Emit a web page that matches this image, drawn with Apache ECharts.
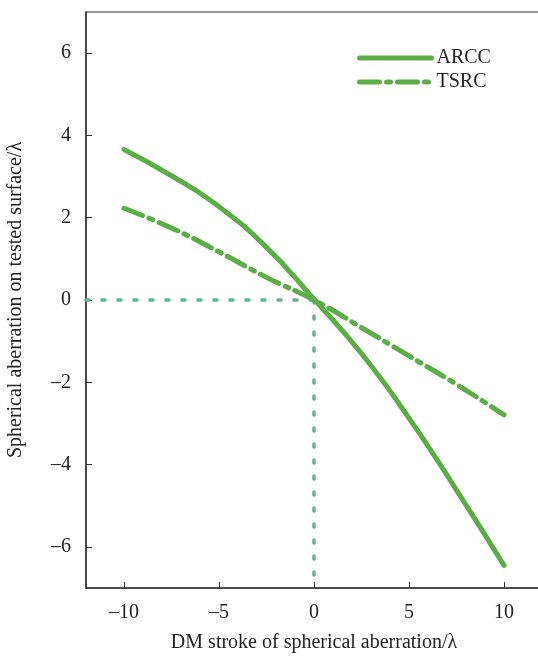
<!DOCTYPE html>
<html>
<head>
<meta charset="utf-8">
<script src="https://cdn.jsdelivr.net/npm/echarts@6/dist/echarts.min.js"></script>
<style>
  html, body { margin: 0; padding: 0; background: #fff; }
  #main { width: 538px; height: 656px; }
</style>
</head>
<body>
<div id="main"></div>
<script>
// DM stroke values (x) and the two curves
var stroke = [-10, -7.5, -5, -2.5, 0, 2.5, 5, 7.5, 10];
var arcc = [3.66, 3.02, 2.27, 1.28, 0.02, -1.3, -2.87, -4.62, -6.45];
var tsrc = [2.23, 1.75, 1.17, 0.55, 0.0, -0.67, -1.36, -2.05, -2.79];
// dotted guide lines through the origin
var guideH = [[-12, 0], [0, 0]];
var guideV = [[0, 0], [0, -7]];
var xTicks = [-10, -5, 0, 5, 10];
var yTicks = [-6, -4, -2, 0, 2, 4, 6];

var green = "#5bae46";
var guideColor = "#6aae8c";
var font = "Liberation Serif";

function pairs(xs, ys) {
  return xs.map(function (x, i) { return [x, ys[i]]; });
}
function dash(v) {
  return String(v).replace("-", "\u2013");
}

var chart = echarts.init(document.getElementById("main"));
chart.setOption({
  animation: false,
  backgroundColor: "#fff",
  grid: {
    left: 86, top: 12, width: 456, height: 576,
    outerBoundsMode: "none",
    show: true, borderColor: "#333", borderWidth: 1.2
  },
  legend: {
    data: ["ARCC", "TSRC"],
    orient: "vertical",
    left: 352,
    top: 43,
    itemWidth: 72,
    itemHeight: 14,
    itemGap: 4,
    itemStyle: { opacity: 0 },
    lineStyle: { width: 5 },
    textStyle: { fontFamily: font, fontSize: 20, color: "#222" }
  },
  xAxis: {
    type: "value",
    min: -12, max: 12,
    interval: 5,
    name: "DM stroke of spherical aberration/\u03bb",
    nameLocation: "middle",
    nameGap: 45,
    nameTextStyle: { fontFamily: font, fontSize: 20, color: "#222" },
    axisLine: { onZero: false, lineStyle: { color: "#333", width: 1.5 } },
    axisTick: { inside: true, length: 6, lineStyle: { color: "#333" },
      customValues: xTicks },
    axisLabel: { fontFamily: font, fontSize: 20, color: "#222", margin: 15,
      customValues: xTicks, formatter: dash },
    splitLine: { show: false }
  },
  yAxis: {
    type: "value",
    min: -7, max: 7,
    name: "Spherical aberration on tested surface/\u03bb",
    nameLocation: "middle",
    nameGap: 60,
    nameTextStyle: { fontFamily: font, fontSize: 20, color: "#222" },
    axisLine: { onZero: false, lineStyle: { color: "#333", width: 1.5 } },
    axisTick: { inside: true, length: 6, lineStyle: { color: "#333" },
      customValues: yTicks },
    axisLabel: { fontFamily: font, fontSize: 20, color: "#222", margin: 15,
      customValues: yTicks, formatter: dash },
    splitLine: { show: false }
  },
  series: [
    {
      name: "guideH", type: "line", data: guideH, symbol: "none", silent: true,
      lineStyle: { color: guideColor, width: 3.5, type: [3, 13], cap: "round" }
    },
    {
      name: "guideV", type: "line", data: guideV, symbol: "none", silent: true,
      lineStyle: { color: guideColor, width: 3.5, type: [3, 13], cap: "round" }
    },
    {
      name: "ARCC", type: "line", data: pairs(stroke, arcc), smooth: true,
      symbol: "none", itemStyle: { color: green },
      lineStyle: { color: green, width: 5, cap: "round" }
    },
    {
      name: "TSRC", type: "line", data: pairs(stroke, tsrc), smooth: true,
      symbol: "none", itemStyle: { color: green },
      lineStyle: { color: green, width: 5, type: [20, 7, 4, 7], cap: "round" }
    }
  ]
});
</script>
</body>
</html>
